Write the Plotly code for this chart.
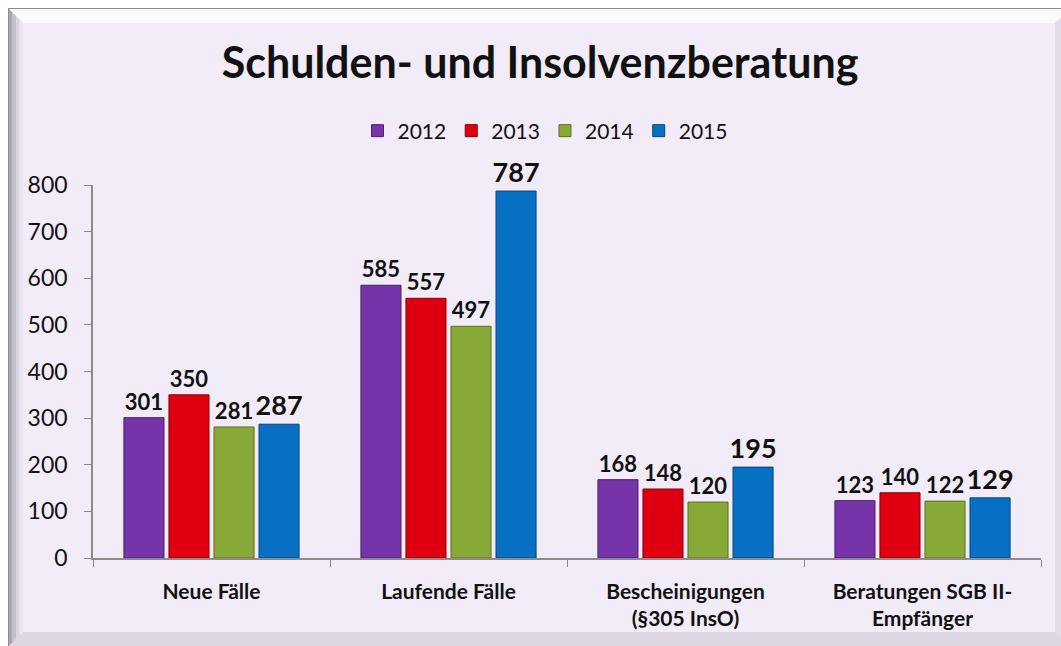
import plotly.graph_objects as go

# Data
categories = ["Neue Fälle", "Laufende Fälle", "Bescheinigungen<br>(§305 InsO)", "Beratungen SGB II-<br>Empfänger"]
years = ["2012", "2013", "2014", "2015"]
values_2012 = [301, 585, 168, 123]
values_2013 = [350, 557, 148, 140]
values_2014 = [281, 497, 120, 122]
values_2015 = [287, 787, 195, 129]
y_ticks = [0, 100, 200, 300, 400, 500, 600, 700, 800]

series = [values_2012, values_2013, values_2014, values_2015]
colors = ["#7634A8", "#DE0010", "#88A838", "#0870C2"]
edges = ["#4E1F72", "#8E000A", "#5A7222", "#04467C"]
label_sizes = [22, 22, 22, 27]

W, H = 1061, 646
ML, MR, MT, MB = 93, 20, 185, 88
PW, PH = W - ML - MR, H - MT - MB


def px(x):
    return (x - ML) / PW


def py(y):
    return (H - MB - y) / PH


FONT = "Lato"

fig = go.Figure()
for name, vals, col, edge, ls in zip(years, series, colors, edges, label_sizes):
    fig.add_trace(go.Bar(
        name=name, x=categories, y=vals,
        marker=dict(color=col, line=dict(color=edge, width=1)),
        text=[str(v) for v in vals], textposition="outside",
        textfont=dict(family=FONT, size=ls, color="#111111", weight="bold"),
        constraintext="none", cliponaxis=False,
    ))


def poly(points, fill):
    path = "M " + " L ".join(f"{px(a)},{py(b)}" for a, b in points) + " Z"
    return dict(type="path", path=path, xref="paper", yref="paper",
                fillcolor=fill, line=dict(width=0), layer="below")


# Bevelled frame around the chart
shapes = []
shapes.append(poly([(8, 8), (1070, 8), (1070, 655), (8, 655)], "#8E8C94"))
shapes.append(poly([(9, 9), (1070, 9), (1070, 655), (9, 655)], "#E4DFEA"))
shapes.append(poly([(9, 9), (1070, 9), (1055, 23), (23, 23)], "#FBFAFD"))
left_cols = ["#A9A7B0", "#C4C1CB", "#DAD6E1", "#E9E4EF"]
for i, c in enumerate(left_cols):
    x0 = 9 + i * 3.5
    x1 = x0 + 3.5 if i < 3 else 23
    shapes.append(poly([(x0, 9 + i * 3.5), (x1, 9 + (i + 1) * 3.5 if i < 3 else 23),
                        (x1, 646 - (i + 1) * 3.5 if i < 3 else 632), (x0, 646 - i * 3.5)], c))
shapes.append(poly([(23, 632), (1055, 632), (1070, 646), (9, 646)], "#DCD7E2"))
shapes.append(poly([(1055, 23), (1070, 9), (1070, 646), (1055, 632)], "#E2DDE8"))
shapes.append(poly([(23, 23), (1055, 23), (1055, 632), (23, 632)], "#F1ECF8"))

fig.update_layout(
    width=W, height=H,
    margin=dict(l=ML, r=MR, t=MT, b=MB),
    paper_bgcolor="white",
    plot_bgcolor="rgba(0,0,0,0)",
    shapes=shapes,
    barmode="group", bargap=0.24, bargroupgap=0.11,
    font=dict(family=FONT, color="#111111"),
    title=dict(text="<b>Schulden- und Insolvenzberatung</b>",
               x=540 / W, xanchor="center", y=1 - 63 / H, yanchor="middle",
               font=dict(family=FONT, size=43, color="#111111")),
    legend=dict(orientation="h", x=px(545), xanchor="center", y=py(131), yanchor="middle",
                font=dict(family=FONT, size=21, color="#111111"),
                bgcolor="rgba(0,0,0,0)", itemwidth=30, traceorder="normal"),
    showlegend=True,
)
fig.update_yaxes(range=[0, 800], tickvals=y_ticks, showgrid=False, zeroline=False,
                 showline=True, linecolor="#8C8C8C", linewidth=1.5,
                 ticks="outside", ticklen=7, tickcolor="#8C8C8C",
                 ticklabelstandoff=12,
                 tickfont=dict(family=FONT, size=23, color="#111111"))
fig.update_xaxes(showgrid=False, showline=True, linecolor="#8C8C8C", linewidth=1.5,
                 ticks="outside", ticklen=7, tickcolor="#8C8C8C", tickson="boundaries",
                 ticklabelstandoff=14,
                 tickfont=dict(family=FONT, size=21, color="#111111", weight="bold"))

fig.write_html("out.html")
